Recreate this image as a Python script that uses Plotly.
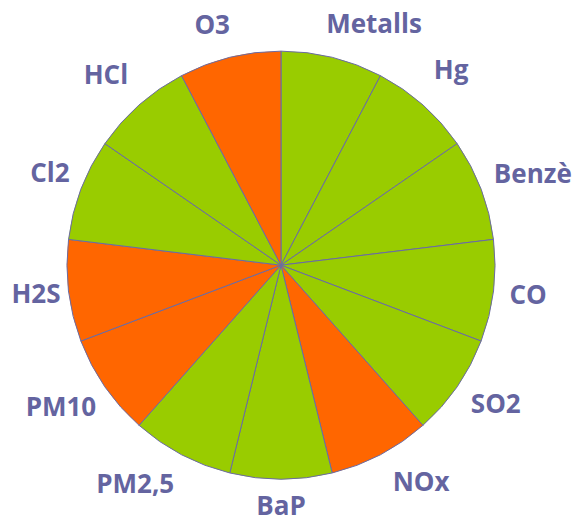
import numpy as np
import plotly.graph_objects as go

# Pollutants, clockwise from 12 o'clock
labels = ["Metalls", "Hg", "Benzè", "CO", "SO2", "NOx", "BaP",
          "PM2,5", "PM10", "H2S", "Cl2", "HCl", "O3"]
values = [1] * len(labels)
# pollutants highlighted in orange
highlight = ["O3", "NOx", "PM10", "H2S"]

GREEN = "#99CC00"
ORANGE = "#FF6600"
TEXT = "#6464A0"
EDGE = "#6B6BA3"
colors = [ORANGE if lab in highlight else GREEN for lab in labels]

# label placement: radial distance (in pie radii) and angular nudge (deg)
label_r = [1.199, 1.201, 1.248, 1.164, 1.201, 1.215, 1.136,
           1.238, 1.229, 1.154, 1.159, 1.201, 1.156]
label_dtheta = [7.4, -0.1, 1.3, 0.5, -1.3, -4.9, 0.0,
                5.7, 1.4, -0.3, 0.5, -1.4, -2.3]

W, H = 577, 522
DOM_X = [0.116, 0.858]
DOM_Y = [0.082, 0.902]

# pie geometry in pixels (plotly fits the circle inside its domain)
cx = W * sum(DOM_X) / 2
cy = H * sum(DOM_Y) / 2
R = min(W * (DOM_X[1] - DOM_X[0]), H * (DOM_Y[1] - DOM_Y[0])) / 2

vals = np.array(values, dtype=float)
mid_angle = (np.cumsum(vals) - vals / 2) / vals.sum() * 360.0
theta = np.radians(mid_angle + np.array(label_dtheta))
lx = np.array(label_r) * R * np.sin(theta)
ly = np.array(label_r) * R * np.cos(theta)

fig = go.Figure()
fig.add_trace(go.Pie(
    labels=labels,
    values=values,
    sort=False,
    direction="clockwise",
    rotation=0,
    marker=dict(colors=colors, line=dict(color=EDGE, width=1)),
    textinfo="none",
    hoverinfo="label",
    showlegend=False,
    domain=dict(x=DOM_X, y=DOM_Y),
))

# category labels around the pie (pixel-scaled axes centred on the pie)
fig.add_trace(go.Scatter(
    x=lx, y=ly,
    mode="text",
    text=labels,
    textposition="middle center",
    textfont=dict(family="Open Sans", size=26, color=TEXT, weight="bold"),
    cliponaxis=False,
    hoverinfo="skip",
    showlegend=False,
))

fig.update_layout(
    width=W, height=H,
    margin=dict(l=0, r=0, t=0, b=0),
    paper_bgcolor="white",
    plot_bgcolor="rgba(0,0,0,0)",
    xaxis=dict(range=[-cx, W - cx], visible=False, fixedrange=True),
    yaxis=dict(range=[-cy, H - cy], visible=False, fixedrange=True),
)

fig.write_html("out.html")
